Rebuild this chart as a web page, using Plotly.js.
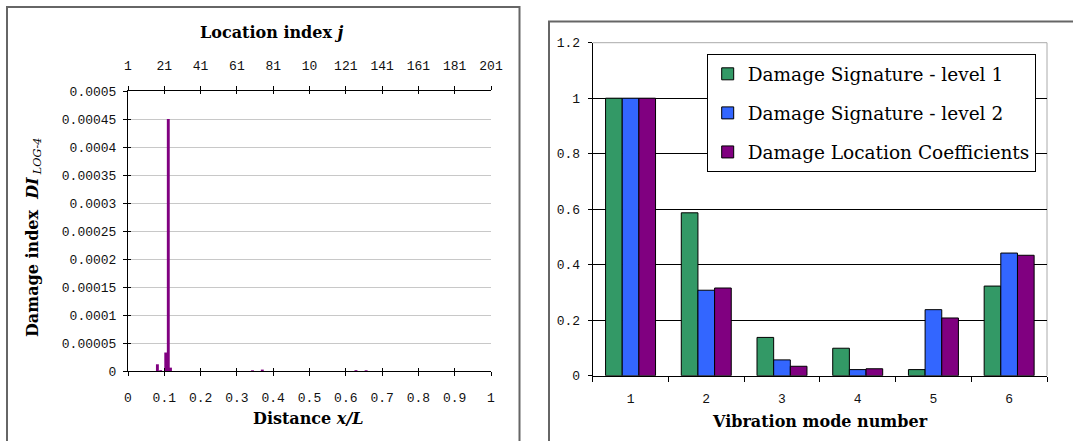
<!DOCTYPE html>
<html>
<head>
<meta charset="utf-8">
<script src="https://cdn.plot.ly/plotly-3.0.1.min.js"></script>
<style>
html,body{margin:0;padding:0;background:#fff;}
#chart{width:1073px;height:441px;}
</style>
</head>
<body>
<div id="chart"></div>
<script>
// ---------- Data: left chart (damage index vs distance) ----------
const distance = [0.081, 0.09, 0.104, 0.111, 0.117, 0.343, 0.37, 0.628, 0.656];
const damageIndex = [0.000012, 0.0000015, 0.000033, 0.00045, 0.000006, 0.0000012, 0.0000025, 0.0000015, 0.0000013];
const distanceTicks = [0, 0.1, 0.2, 0.3, 0.4, 0.5, 0.6, 0.7, 0.8, 0.9, 1];
const distanceTickText = ['0', '0.1', '0.2', '0.3', '0.4', '0.5', '0.6', '0.7', '0.8', '0.9', '1'];
const locationTickText = ['1', '21', '41', '61', '81', '10', '121', '141', '161', '181', '201'];
const damageTicks = [0, 0.00005, 0.0001, 0.00015, 0.0002, 0.00025, 0.0003, 0.00035, 0.0004, 0.00045, 0.0005];
const damageTickText = ['0', '0.00005', '0.0001', '0.00015', '0.0002', '0.00025', '0.0003', '0.00035', '0.0004', '0.00045', '0.0005'];

// ---------- Data: right chart (vibration modes) ----------
const modes = ['1', '2', '3', '4', '5', '6'];
const signatureLevel1 = [1, 0.587, 0.138, 0.099, 0.022, 0.323];
const signatureLevel2 = [1, 0.308, 0.057, 0.022, 0.238, 0.442];
const locationCoefficients = [1, 0.316, 0.034, 0.025, 0.208, 0.434];
const modeTicks = [0, 0.2, 0.4, 0.6, 0.8, 1, 1.2];
const modeTickText = ['0', '0.2', '0.4', '0.6', '0.8', '1', '1.2'];
const seriesNames = ['Damage Signature - level 1', 'Damage Signature - level 2', 'Damage Location Coefficients'];

// ---------- Helpers (pixel -> paper) ----------
const W = 1073, H = 441;
const px = x => x / W;
const py = y => 1 - y / H;

const tickFont = {family: 'Liberation Mono, DejaVu Sans Mono, monospace', size: 13, color: '#111'};
const titleFont = {family: 'DejaVu Serif, serif', size: 16, color: '#000'};

const outline = {color: '#000', width: 1};

const traces = [
  {type: 'bar', x: distance, y: damageIndex, xaxis: 'x', yaxis: 'y', width: 0.008,
   marker: {color: '#800080', line: {width: 0}}, showlegend: false, hoverinfo: 'x+y'},
  // helper (invisible) traces to activate the extra axes
  {type: 'scatter', x: [distanceTicks[0]], y: [damageTicks[0]], xaxis: 'x2', yaxis: 'y', mode: 'none',
   showlegend: false, hoverinfo: 'skip'},
  {type: 'scatter', x: [distanceTicks[0]], y: [damageTicks[0]], xaxis: 'x4', yaxis: 'y4', mode: 'none',
   showlegend: false, hoverinfo: 'skip'},
  {type: 'scatter', x: [distanceTicks[0]], y: [damageTicks[0]], xaxis: 'x5', yaxis: 'y', mode: 'none',
   showlegend: false, hoverinfo: 'skip'},
  {type: 'bar', name: seriesNames[0], x: modes, y: signatureLevel1, xaxis: 'x3', yaxis: 'y3',
   marker: {color: '#339966', line: outline}, legendgroup: 'a'},
  {type: 'bar', name: seriesNames[1], x: modes, y: signatureLevel2, xaxis: 'x3', yaxis: 'y3',
   marker: {color: '#3366FF', line: outline}, legendgroup: 'b'},
  {type: 'bar', name: seriesNames[2], x: modes, y: locationCoefficients, xaxis: 'x3', yaxis: 'y3',
   marker: {color: '#800080', line: outline}, legendgroup: 'c'}
];

const L = {x0: 128, x1: 491, y0: 91, y1: 371};
const R = {x0: 592.7, x1: 1047, y0: 42.7, y1: 375.7};

const innerTicks = {ticks: 'inside', ticklen: 3, tickcolor: '#000', tickwidth: 1, showticklabels: false,
  showline: false, showgrid: false, zeroline: false, fixedrange: true};

const layout = {
  width: W, height: H,
  margin: {l: 0, r: 0, t: 0, b: 0},
  paper_bgcolor: '#fff', plot_bgcolor: '#fff',
  barmode: 'group', bargap: 0.34, bargroupgap: 0,
  xaxis: {
    domain: [px(L.x0), px(L.x1)], anchor: 'y', range: [0, 1],
    tickmode: 'array', tickvals: distanceTicks, ticktext: distanceTickText,
    ticks: 'outside', ticklen: 4, tickcolor: '#000', tickwidth: 1,
    showline: true, linecolor: '#000', linewidth: 1,
    showgrid: false, zeroline: false, tickfont: tickFont, ticklabelstandoff: 10, fixedrange: true
  },
  xaxis2: {
    overlaying: 'x', side: 'top', anchor: 'y', range: [0, 1],
    tickmode: 'array', tickvals: distanceTicks, ticktext: locationTickText,
    ticks: 'outside', ticklen: 4, tickcolor: '#000', tickwidth: 1,
    showline: true, linecolor: '#000', linewidth: 1,
    showgrid: false, zeroline: false, tickfont: tickFont, ticklabelstandoff: 11, fixedrange: true
  },
  xaxis4: Object.assign({overlaying: 'x', side: 'bottom', anchor: 'y', range: [0, 1],
    tickmode: 'array', tickvals: distanceTicks}, innerTicks),
  xaxis5: Object.assign({overlaying: 'x', side: 'top', anchor: 'y', range: [0, 1],
    tickmode: 'array', tickvals: distanceTicks}, innerTicks),
  yaxis: {
    domain: [py(L.y1), py(L.y0)], anchor: 'x', range: [0, 0.0005],
    tickmode: 'array', tickvals: damageTicks, ticktext: damageTickText,
    ticks: 'outside', ticklen: 4, tickcolor: '#000', tickwidth: 1,
    showline: true, linecolor: '#000', linewidth: 1,
    showgrid: true, gridcolor: '#c8c8c8', gridwidth: 1, zeroline: false,
    tickfont: tickFont, ticklabelstandoff: 4, fixedrange: true
  },
  yaxis4: Object.assign({overlaying: 'y', side: 'left', anchor: 'x', range: [0, 0.0005],
    tickmode: 'array', tickvals: damageTicks}, innerTicks),
  xaxis3: {
    domain: [px(R.x0), px(R.x1)], anchor: 'y3', type: 'category',
    tickson: 'boundaries', ticks: 'outside', ticklen: 5, tickcolor: '#000', tickwidth: 1,
    showline: true, linecolor: '#000', linewidth: 1,
    showgrid: false, zeroline: false, tickfont: tickFont, ticklabelstandoff: 11, fixedrange: true
  },
  yaxis3: {
    domain: [py(R.y1), py(R.y0)], anchor: 'x3', range: [0, 1.2],
    tickmode: 'array', tickvals: modeTicks, ticktext: modeTickText,
    ticks: 'outside', ticklen: 4, tickcolor: '#000', tickwidth: 1,
    showline: true, linecolor: '#000', linewidth: 1,
    showgrid: true, gridcolor: '#000', gridwidth: 1, zeroline: false,
    tickfont: tickFont, ticklabelstandoff: 5, fixedrange: true
  },
  showlegend: true,
  legend: {
    x: px(706.7), y: py(54.3), xanchor: 'left', yanchor: 'top',
    bgcolor: '#fff', bordercolor: '#000', borderwidth: 1,
    font: {family: 'DejaVu Serif, serif', size: 18.5, color: '#000'},
    traceorder: 'grouped', tracegroupgap: 12
  },
  shapes: [
    // panel frames
    {type: 'rect', xref: 'paper', yref: 'paper', x0: px(7), x1: px(519.5), y0: py(460), y1: py(7),
     line: {color: '#666', width: 2}, layer: 'below'},
    {type: 'rect', xref: 'paper', yref: 'paper', x0: px(549), x1: px(1090), y0: py(460), y1: py(21.5),
     line: {color: '#666', width: 2}, layer: 'below'},
    // right plot area border (top / right)
    {type: 'line', xref: 'paper', yref: 'paper', x0: px(R.x0), x1: px(R.x1), y0: py(R.y0), y1: py(R.y0),
     line: {color: '#aaa', width: 1}, layer: 'above'},
    {type: 'line', xref: 'paper', yref: 'paper', x0: px(R.x1), x1: px(R.x1), y0: py(R.y0), y1: py(R.y1),
     line: {color: '#aaa', width: 1}, layer: 'below'}
  ],
  annotations: [
    {text: '<b>Location index <i>j</i></b>', xref: 'paper', yref: 'paper', x: px(272), y: py(32),
     xanchor: 'center', yanchor: 'middle', showarrow: false, font: titleFont},
    {text: '<b>Distance <i>x/L</i></b>', xref: 'paper', yref: 'paper', x: px(308), y: py(418),
     xanchor: 'center', yanchor: 'middle', showarrow: false, font: titleFont},
    {text: '<b>Damage index&nbsp; <i>DI</i></b>&#8201;<sub><i>LOG-4</i></sub>', xref: 'paper', yref: 'paper', x: px(33), y: py(238),
     xanchor: 'center', yanchor: 'middle', textangle: -90, showarrow: false, font: titleFont},
    {text: '<b>Vibration mode number</b>', xref: 'paper', yref: 'paper', x: px(820), y: py(421),
     xanchor: 'center', yanchor: 'middle', showarrow: false, font: titleFont}
  ]
};

Plotly.newPlot('chart', traces, layout, {displayModeBar: false, staticPlot: true});
</script>
</body>
</html>
